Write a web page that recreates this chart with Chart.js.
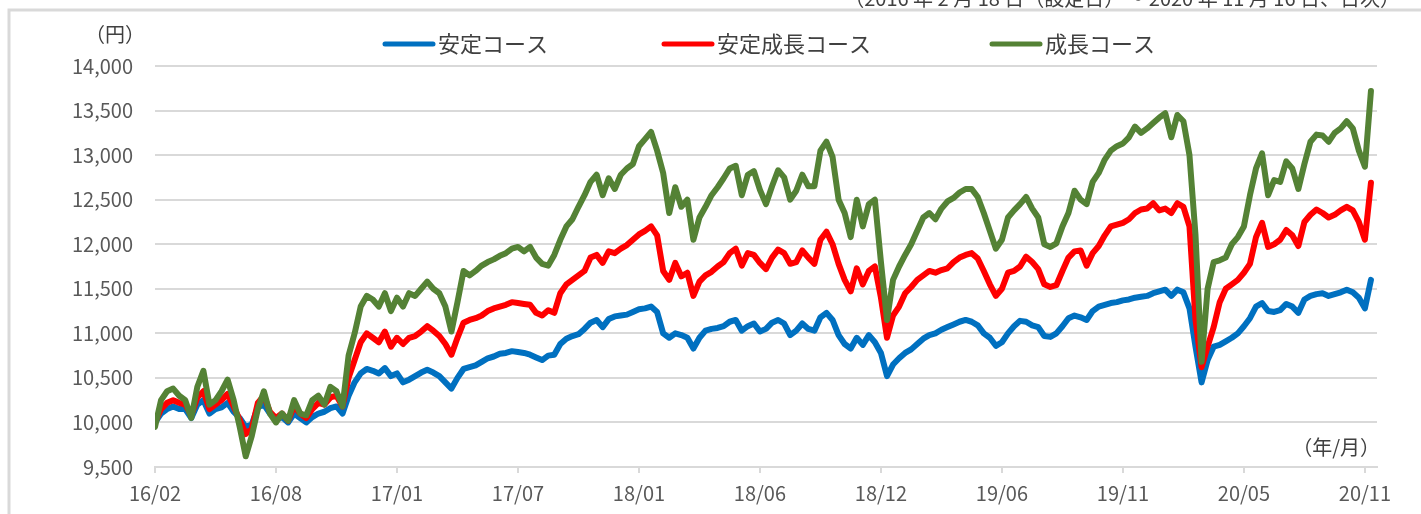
<!DOCTYPE html>
<html>
<head>
<meta charset="utf-8">
<script src="https://cdn.jsdelivr.net/npm/chart.js@4.4.0/dist/chart.umd.min.js"></script>
<style>
  html, body { margin: 0; padding: 0; background: #fff; }
  #wrap { width: 1421px; height: 514px; position: relative; }
</style>
</head>
<body>
<div id="wrap"><canvas id="chart"></canvas></div>
<script>
// 目盛りラベル（20データ点ごと）
const tickLabels = ["16/02", "16/08", "17/01", "17/07", "18/01", "18/06", "18/12", "19/06", "19/11", "20/05", "20/11"];
const seriesNames = ["安定コース", "安定成長コース", "成長コース"];

// 基準価額（円）
const stableData = [
  10000,10100,10150,10180,10150,10150,10050,10200,10250,10100,
  10150,10170,10220,10120,10050,9950,9980,10170,10200,10100,
  10030,10060,10000,10100,10050,10000,10060,10100,10120,10160,
  10180,10100,10300,10450,10550,10600,10580,10550,10610,10520,
  10550,10450,10480,10520,10560,10590,10560,10520,10450,10380,
  10500,10600,10620,10640,10680,10720,10740,10770,10780,10800,
  10790,10780,10760,10730,10700,10750,10760,10880,10940,10970,
  10990,11050,11120,11150,11070,11160,11190,11200,11210,11240,
  11270,11280,11300,11240,11000,10950,11000,10980,10950,10830,
  10950,11030,11050,11060,11080,11130,11150,11030,11080,11110,
  11020,11050,11120,11150,11110,10980,11030,11110,11050,11030,
  11180,11230,11150,10980,10880,10830,10950,10870,10980,10900,
  10780,10520,10650,10720,10780,10820,10880,10940,10980,11000,
  11040,11070,11100,11130,11150,11130,11090,11000,10950,10860,
  10900,11000,11080,11140,11130,11090,11070,10970,10960,11000,
  11080,11170,11200,11180,11150,11250,11300,11320,11340,11350,
  11370,11380,11400,11410,11420,11450,11470,11490,11420,11490,
  11460,11280,10850,10450,10700,10850,10870,10910,10950,11000,
  11080,11170,11300,11340,11250,11240,11260,11330,11300,11230,
  11380,11420,11440,11450,11420,11440,11460,11490,11460,11400,
  11280,11600
];
const stableGrowthData = [
  10000,10150,10220,10250,10220,10200,10080,10280,10350,10150,
  10200,10250,10320,10180,10030,9870,9930,10220,10300,10120,
  10050,10100,10020,10180,10100,10050,10150,10220,10200,10280,
  10300,10180,10500,10700,10900,11000,10950,10900,11020,10850,
  10950,10880,10950,10970,11020,11080,11030,10970,10880,10760,
  10950,11120,11150,11170,11200,11250,11280,11300,11320,11350,
  11340,11330,11320,11230,11200,11260,11230,11450,11550,11600,
  11650,11700,11850,11880,11790,11920,11900,11950,11990,12050,
  12110,12150,12200,12100,11700,11600,11790,11640,11680,11420,
  11580,11650,11690,11750,11800,11900,11950,11760,11900,11880,
  11790,11720,11850,11940,11900,11780,11800,11930,11850,11780,
  12050,12140,12000,11780,11600,11470,11730,11550,11700,11750,
  11400,10950,11200,11300,11450,11520,11600,11650,11700,11680,
  11710,11730,11800,11850,11880,11900,11840,11700,11550,11420,
  11500,11680,11700,11750,11860,11800,11720,11550,11520,11540,
  11700,11850,11920,11930,11760,11900,11980,12100,12200,12220,
  12240,12280,12350,12390,12400,12460,12380,12400,12350,12460,
  12420,12200,11150,10620,10850,11070,11350,11500,11550,11600,
  11680,11780,12080,12240,11970,12000,12050,12160,12100,11980,
  12250,12330,12390,12350,12300,12330,12380,12420,12380,12250,
  12050,12690
];
const growthData = [
  9950,10250,10350,10380,10300,10250,10050,10400,10580,10200,
  10250,10350,10480,10250,9950,9620,9850,10150,10350,10100,
  10000,10100,10020,10250,10100,10080,10250,10300,10200,10400,
  10350,10180,10750,11000,11300,11420,11380,11300,11450,11250,
  11400,11300,11450,11420,11500,11580,11500,11450,11300,11020,
  11350,11700,11650,11700,11760,11800,11830,11870,11900,11950,
  11970,11920,11970,11850,11780,11760,11880,12050,12200,12280,
  12420,12550,12700,12780,12550,12740,12620,12780,12850,12900,
  13100,13180,13260,13050,12800,12350,12640,12420,12500,12050,
  12300,12420,12550,12640,12740,12850,12880,12550,12780,12820,
  12610,12450,12650,12830,12750,12500,12600,12780,12650,12650,
  13050,13150,12980,12500,12350,12080,12500,12200,12450,12500,
  11800,11150,11600,11750,11880,12000,12150,12300,12350,12280,
  12400,12480,12520,12580,12620,12620,12530,12350,12150,11950,
  12050,12300,12380,12450,12530,12400,12300,12000,11970,12010,
  12200,12350,12600,12500,12450,12700,12800,12950,13050,13100,
  13130,13200,13320,13250,13300,13360,13420,13470,13200,13450,
  13380,13000,12100,10680,11500,11800,11820,11850,12000,12080,
  12200,12550,12850,13020,12550,12720,12700,12930,12850,12620,
  12900,13150,13230,13220,13150,13250,13300,13380,13300,13050,
  12870,13720
];

const colors = ["#0070C0", "#FF0000", "#548235"];
const FONT = "'Noto Sans CJK JP', 'Noto Sans', sans-serif";
Chart.defaults.font.family = FONT;

const toPoints = (arr) => arr.map((v, i) => ({ x: i, y: v }));

// 枠・注記・凡例
const decorPlugin = {
  id: "decor",
  beforeDraw(chart) {
    const ctx = chart.ctx;
    ctx.save();
    ctx.strokeStyle = "#d9d9d9";
    ctx.lineWidth = 3;
    ctx.beginPath();
    ctx.moveTo(1421, 10);
    ctx.lineTo(9, 10);
    ctx.lineTo(9, 514);
    ctx.stroke();
    ctx.restore();
  },
  afterDraw(chart) {
    const ctx = chart.ctx;
    const area = chart.chartArea;
    ctx.save();
    ctx.fillStyle = "#404040";
    ctx.textBaseline = "middle";
    ctx.font = "20px " + FONT;
    ctx.textAlign = "right";
    ctx.fillText("（2016 年 2 月 18 日（設定日）～ 2020 年 11 月 16 日、日次）", 1400, -2);
    ctx.fillText("（円）", 145, 34);
    ctx.fillText("（年/月）", area.right + 3, 447);

    // 凡例
    const legendX = [383, 662, 990];
    ctx.textAlign = "left";
    ctx.font = "22px " + FONT;
    ctx.lineCap = "round";
    ctx.lineWidth = 5;
    seriesNames.forEach((name, i) => {
      ctx.strokeStyle = colors[i];
      ctx.beginPath();
      ctx.moveTo(legendX[i] + 2, 44);
      ctx.lineTo(legendX[i] + 50, 44);
      ctx.stroke();
      ctx.fillStyle = "#404040";
      ctx.fillText(name, legendX[i] + 55, 44);
    });
    ctx.restore();
  },
};

const datasets = [stableData, stableGrowthData, growthData].map((d, i) => ({
  label: seriesNames[i],
  data: toPoints(d),
  borderColor: colors[i],
  backgroundColor: colors[i],
  borderWidth: 6,
  pointRadius: 0,
  tension: 0,
  borderJoinStyle: "round",
  borderCapStyle: "round",
  order: 2 - i,
}));

new Chart(document.getElementById("chart"), {
  type: "line",
  data: { datasets: datasets },
  options: {
    responsive: true,
    maintainAspectRatio: false,
    animation: false,
    layout: { padding: { top: 66, right: 44, bottom: 0, left: 10 } },
    plugins: {
      legend: { display: false },
      tooltip: { enabled: false },
    },
    scales: {
      x: {
        type: "linear",
        min: 0,
        max: 202,
        afterBuildTicks: (s) => {
          s.ticks = s.ticks.filter((t) => t.value % 20 === 0 && t.value <= 200);
        },
        afterFit: (s) => { s.height = 47; },
        ticks: {
          stepSize: 20,
          includeBounds: false,
          autoSkip: false,
          maxRotation: 0,
          padding: 8,
          color: "#595959",
          font: { size: 20 },
          callback: (v) => tickLabels[v / 20],
        },
        grid: {
          drawOnChartArea: false,
          tickLength: 6,
          color: "#d9d9d9",
          lineWidth: 2,
        },
        border: { display: true, color: "#d9d9d9", width: 2 },
      },
      y: {
        min: 9500,
        max: 14000,
        afterFit: (s) => { s.width = 145; },
        ticks: {
          stepSize: 500,
          padding: 22,
          color: "#595959",
          font: { size: 20 },
          callback: (v) => v.toLocaleString("en-US"),
        },
        grid: { color: "#d9d9d9", lineWidth: 2, drawTicks: false },
        border: { display: false },
      },
    },
  },
  plugins: [decorPlugin],
});
</script>
</body>
</html>
